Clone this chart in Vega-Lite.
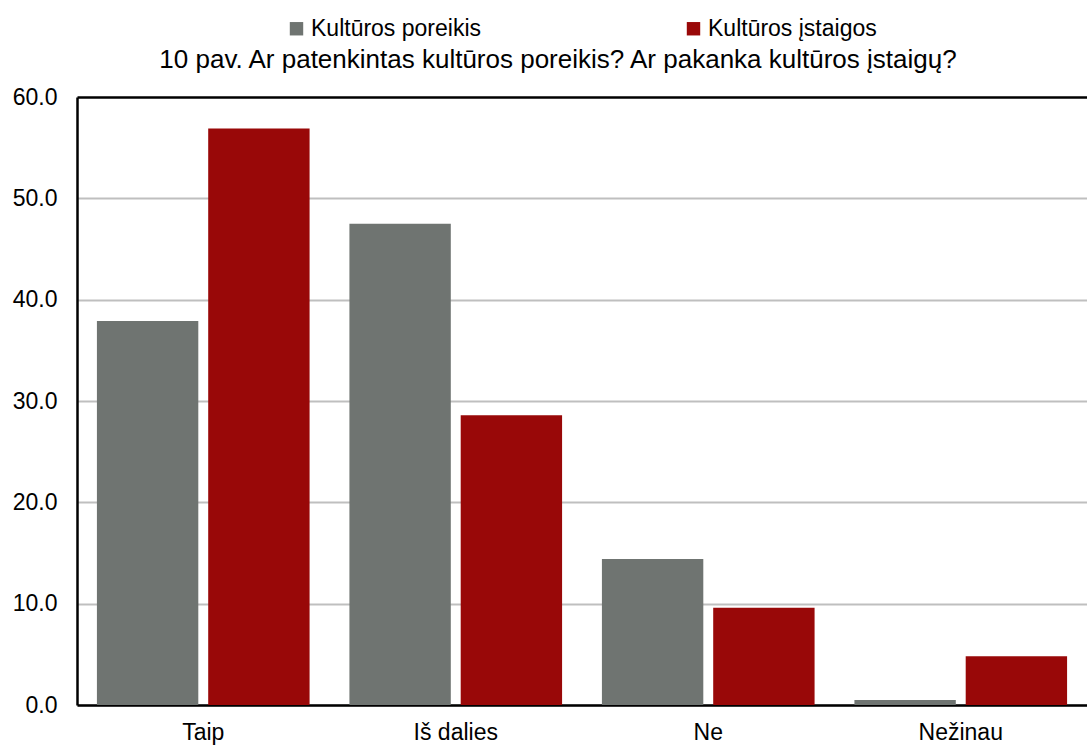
{
  "$schema": "https://vega.github.io/schema/vega-lite/v6.json",
  "autosize": {"type": "none"},
  "width": 1010,
  "height": 608,
  "padding": {"left": 77, "top": 97, "right": 0, "bottom": 40},
  "background": "white",
  "config": {
    "font": "Liberation Sans",
    "view": {"stroke": null},
    "axis": {"labelFont": "Liberation Sans", "labelColor": "black"}
  },
  "title": {
    "text": "10 pav. Ar patenkintas kultūros poreikis? Ar pakanka kultūros įstaigų?",
    "font": "Liberation Sans",
    "fontSize": 26,
    "fontWeight": "normal",
    "color": "black",
    "anchor": "middle",
    "frame": "group",
    "dx": -24,
    "dy": 78,
    "offset": 22
  },
  "data": {
    "values": [
      {"atsakymas": "Taip", "serija": "Kultūros poreikis", "reiksme": 37.9},
      {"atsakymas": "Taip", "serija": "Kultūros įstaigos", "reiksme": 56.9},
      {"atsakymas": "Iš dalies", "serija": "Kultūros poreikis", "reiksme": 47.5},
      {"atsakymas": "Iš dalies", "serija": "Kultūros įstaigos", "reiksme": 28.6},
      {"atsakymas": "Ne", "serija": "Kultūros poreikis", "reiksme": 14.4},
      {"atsakymas": "Ne", "serija": "Kultūros įstaigos", "reiksme": 9.6},
      {"atsakymas": "Nežinau", "serija": "Kultūros poreikis", "reiksme": 0.5},
      {"atsakymas": "Nežinau", "serija": "Kultūros įstaigos", "reiksme": 4.8}
    ]
  },
  "mark": {"type": "bar"},
  "encoding": {
    "x": {
      "field": "atsakymas",
      "type": "nominal",
      "sort": ["Taip", "Iš dalies", "Ne", "Nežinau"],
      "scale": {"paddingInner": 0, "paddingOuter": 0},
      "axis": {
        "title": null,
        "labelAngle": 0,
        "labelFontSize": 23,
        "labelPadding": 16,
        "ticks": false,
        "domain": true,
        "domainColor": "black",
        "domainWidth": 2.5
      }
    },
    "xOffset": {
      "field": "serija",
      "type": "nominal",
      "sort": ["Kultūros poreikis", "Kultūros įstaigos"],
      "scale": {"paddingInner": 0.089, "paddingOuter": 0.179}
    },
    "y": {
      "field": "reiksme",
      "type": "quantitative",
      "scale": {"domain": [0, 60], "nice": false},
      "axis": {
        "title": null,
        "values": [0, 10, 20, 30, 40, 50, 60],
        "format": ".1f",
        "labelFontSize": 23,
        "labelPadding": 20,
        "ticks": false,
        "domain": true,
        "domainColor": "black",
        "domainWidth": 2.5,
        "grid": true,
        "gridColor": {"condition": {"test": "datum.value == 60", "value": "black"}, "value": "#bfbfbf"},
        "gridWidth": {"condition": {"test": "datum.value == 60", "value": 2.5}, "value": 2}
      }
    },
    "color": {
      "field": "serija",
      "type": "nominal",
      "sort": ["Kultūros poreikis", "Kultūros įstaigos"],
      "scale": {"domain": ["Kultūros poreikis", "Kultūros įstaigos"], "range": ["#6f7471", "#990808"]},
      "legend": {
        "title": null,
        "orient": "none",
        "direction": "horizontal",
        "legendX": 208,
        "legendY": -80,
        "symbolType": "square",
        "symbolSize": 180,
        "symbolStrokeWidth": 0,
        "labelFontSize": 23,
        "labelFont": "Liberation Sans",
        "labelColor": "black",
        "labelLimit": 0,
        "labelOffset": 3,
        "columnPadding": 200
      }
    }
  }
}
